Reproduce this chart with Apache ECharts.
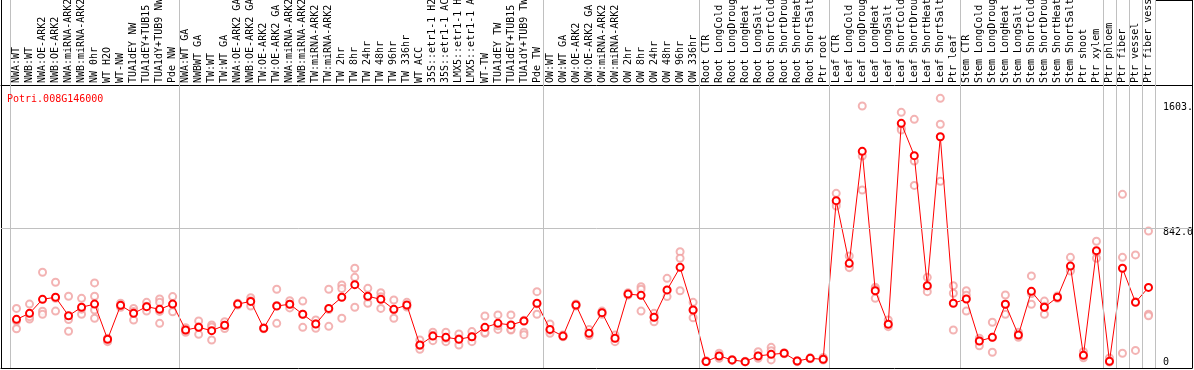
<!DOCTYPE html>
<html>
<head>
<meta charset="utf-8">
<script src="https://cdn.jsdelivr.net/npm/echarts@6/dist/echarts.min.js"></script>
<style>
html,body{margin:0;padding:0;background:#fff;}
#chart{width:1194px;height:370px;}
</style>
</head>
<body>
<div id="chart"></div>
<script>
var geneId = "Potri.008G146000";

// sample names, same order as the columns
var categories = [
    "NWA:WT","NWB:WT","NWA:OE-ARK2","NWB:OE-ARK2","NWA:miRNA-ARK2","NWB:miRNA-ARK2","NW 0hr","WT H2O","WT-NW",
    "TUA1dEY NW","TUA1dEY+TUB15 NW","TUA1dY+TUB9 NW","Pde NW",
    "NWA:WT GA","NWBWT GA","TW:WT","TW:WT GA","NWA:OE-ARK2 GA","NWB:OE-ARK2 GA","TW:OE-ARK2","TW:OE-ARK2 GA",
    "NWA:miRNA-ARK2 GA","NWB:miRNA-ARK2 GA","TW:miRNA-ARK2","TW:miRNA-ARK2 GA","TW 2hr","TW 8hr","TW 24hr","TW 48hr",
    "TW 96hr","TW 336hr","WT ACC","35S::etr1-1 H2O","35S::etr1-1 ACC","LMX5::etr1-1 H2O","LMX5::etr1-1 ACC","WT-TW",
    "TUA1dEY TW","TUA1dEY+TUB15 TW","TUA1dY+TUB9 TW","Pde TW",
    "OW:WT","OW:WT GA","OW:OE-ARK2","OW:OE-ARK2 GA","OW:miRNA-ARK2","OW:miRNA-ARK2 GA","OW 2hr","OW 8hr","OW 24hr",
    "OW 48hr","OW 96hr","OW 336hr",
    "Root CTR","Root LongCold","Root LongDrought","Root LongHeat","Root LongSalt","Root ShortCold","Root ShortDrought",
    "Root ShortHeat","Root ShortSalt","Ptr root",
    "Leaf CTR","Leaf LongCold","Leaf LongDrought","Leaf LongHeat","Leaf LongSalt","Leaf ShortCold","Leaf ShortDrought",
    "Leaf ShortHeat","Leaf ShortSalt","Ptr leaf",
    "Stem CTR","Stem LongCold","Stem LongDrought","Stem LongHeat","Stem LongSalt","Stem ShortCold","Stem ShortDrought",
    "Stem ShortHeat","Stem ShortSalt","Ptr shoot","Ptr xylem",
    "Ptr phloem","Ptr fiber","Ptr vessel","Ptr fiber vessel"
];

// mean expression (red line)
var means = [
    268,306,394,407,291,344,364,143,356,306,348,331,364,
    201,218,197,231,364,381,212,352,363,300,239,337,407,486,413,394,331,358,107,163,155,143,159,218,243,233,258,369,
    205,163,358,180,310,149,427,419,281,453,595,327,
    3,38,13,2,38,48,55,6,23,17,
    1014,620,1324,448,237,1500,1297,480,1416,369,
    396,132,155,363,170,444,344,407,603,42,700,
    4,589,375,469
];

// replicate values (pale circles)
var reps = [
    [337,209,258],[364,270,285],[564,319,300],[501,320,400],[413,193,267],[400,300,332],[497,413,327,275],
    [150,135,128],[370,344,355],[337,264,318],[375,320,350],[396,375,243,318],[411,316,364],
    [215,187,201],[258,174,222],[233,138,220],[253,210,231],[370,364,358],[404,352,385],[215,212,209],
    [457,243,355],[385,363,340],[383,218,300],[264,212,240],[457,224,330],[484,462,275],[589,532,344],
    [463,369,408],[436,337,410],[390,275,328],[375,345,355],[138,80,103],[187,134,168],[187,128,150],
    [176,107,146],[191,128,158],[289,180,186],[296,205,228],[296,201,205],[262,187,172],[442,300,365],
    [239,180,200],[170,163,158],[365,358,352],[205,170,166],[320,310,300],[170,149,128],[435,427,420],
    [473,457,320],[306,281,253],[526,448,411],[693,652,448],[375,327,278],
    [3,5,8],[55,38,23],[15,13,10],[4,2,1],[65,38,23],[92,71,13],[58,55,52],[8,6,2],[26,23,20],[28,23,12],
    [1060,1000,980],[666,600,593],[1609,1295,1081],[470,460,400],[264,237,222],[1569,1469,1458],
    [1525,1263,1110],[532,470,442],[1657,1494,1136],[480,432,201],
    [448,420,320],[149,132,102],[250,155,61],[421,363,300],[187,170,155],[541,430,363],[383,350,300],
    [415,407,400],[658,580,572],[65,42,27],[759,689,652],
    [25,2,0],[1054,658,55],[673,379,73],[823,300,290]
];

// column boundaries where the grey separators are drawn
var groupBounds = [-0.5, 12.5, 40.5, 52.5, 62.5, 72.5, 83.5, 84.5, 85.5, 86.5, 87.5];
var yTicks = [0, 842, 1603];
var yTickText = ["0", "842.0", "1603."];
var midLine = 842;

var font = "DejaVu Sans Mono";
var lineData = [];
for (var i = 0; i < means.length; i++) lineData.push([i, means[i]]);
var repData = [];
for (var i = 0; i < reps.length; i++) {
    for (var j = 0; j < reps[i].length; j++) repData.push([i, reps[i][j]]);
}
var catIdx = [];
for (var i = 0; i < categories.length; i++) catIdx.push(i);

var bounds = [];
for (var i = 0; i < groupBounds.length; i++) bounds.push({xAxis: groupBounds[i]});
bounds.push({yAxis: midLine});

var xMin = -1.1917, xMax = 90.344;
var yMin = -37.7, yMax = 2275.3;

var myChart = echarts.init(document.getElementById('chart'));
myChart.setOption({
    animation: false,
    backgroundColor: '#fff',
    title: {
        text: geneId,
        left: 2,
        top: 89,
        textStyle: {color: '#ff0000', fontSize: 10, fontWeight: 'normal', fontFamily: font}
    },
    grid: {left: 1, right: 2, top: 0, bottom: 2, containLabel: false, outerBoundsMode: 'none'},
    xAxis: [{
        type: 'value',
        position: 'top',
        offset: -85,
        min: xMin, max: xMax,
        axisLine: {show: true, onZero: false, lineStyle: {color: '#000', width: 1}},
        axisTick: {show: false},
        splitLine: {show: false},
        axisLabel: {
            customValues: catIdx,
            rotate: -90,
            margin: 2,
            color: '#000',
            fontSize: 10,
            fontFamily: font,
            formatter: function (v) { return categories[Math.round(v)]; }
        }
    }, {
        type: 'value',
        position: 'bottom',
        min: xMin, max: xMax,
        axisLine: {show: true, onZero: false, lineStyle: {color: '#000', width: 1}},
        axisTick: {show: false},
        axisLabel: {show: false},
        splitLine: {show: false}
    }],
    yAxis: [{
        type: 'value',
        position: 'right',
        min: yMin, max: yMax,
        axisLine: {show: true, onZero: false, lineStyle: {color: '#000', width: 1}},
        axisTick: {show: false},
        splitLine: {show: false},
        axisLabel: {
            customValues: yTicks,
            inside: true,
            align: 'left',
            margin: 29,
            color: '#000',
            fontSize: 10,
            fontFamily: font,
            formatter: function (v) {
                var k = yTicks.indexOf(v);
                if (v == midLine) return '{d|' + yTickText[k] + '}';
                return yTickText[k];
            },
            rich: {d: {fontSize: 10, fontFamily: font, color: '#000', padding: [8, 0, 0, 0]}}
        }
    }, {
        type: 'value',
        position: 'left',
        min: yMin, max: yMax,
        axisLine: {show: true, onZero: false, lineStyle: {color: '#000', width: 1}},
        axisTick: {show: false},
        axisLabel: {show: false},
        splitLine: {show: false}
    }],
    graphic: [{
        type: 'line',
        shape: {x1: 1155, y1: 0.5, x2: 1192, y2: 0.5},
        style: {stroke: '#000', lineWidth: 1},
        silent: true
    }],
    series: [{
        name: 'grid',
        type: 'line',
        data: [],
        markLine: {
            silent: true,
            symbol: 'none',
            label: {show: false},
            lineStyle: {color: '#c0c0c0', width: 1, type: 'solid'},
            data: bounds
        }
    }, {
        name: 'reps',
        type: 'scatter',
        data: repData,
        symbol: 'emptyCircle',
        symbolSize: 7,
        itemStyle: {color: '#f0a0a0', borderColor: '#eb9898', borderWidth: 1},
        z: 3
    }, {
        name: 'mean',
        type: 'line',
        data: lineData,
        symbol: 'emptyCircle',
        symbolSize: 7,
        lineStyle: {color: '#ff0000', width: 1},
        itemStyle: {color: '#ff0000', borderColor: '#ff0000', borderWidth: 1.6},
        z: 4
    }]
});
</script>
</body>
</html>
